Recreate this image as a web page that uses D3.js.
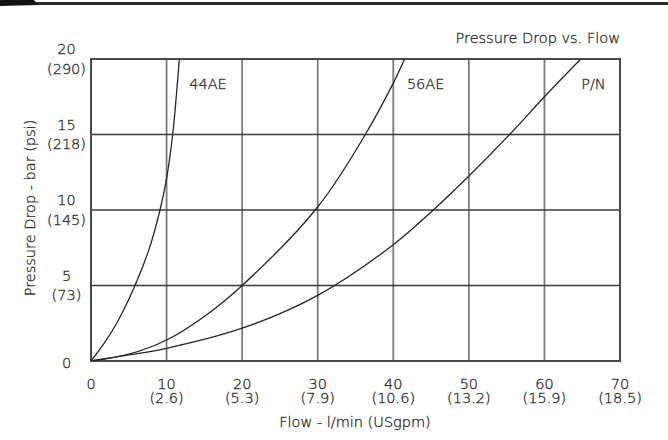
<!DOCTYPE html>
<html><head><meta charset="utf-8">
<script src="https://cdn.jsdelivr.net/npm/d3@7"></script>
<style>
html,body{margin:0;padding:0;background:#fff;}
svg{display:block;}
text{font-family:"DejaVu Sans",sans-serif;font-weight:200;fill:#111;stroke:#333;stroke-width:0.3;}
</style></head>
<body>
<svg id="c" width="668" height="440"></svg>
<script>
// ---- data ----
const xTicks = [0, 10, 20, 30, 40, 50, 60, 70];
const xTickGpm = ["", "(2.6)", "(5.3)", "(7.9)", "(10.6)", "(13.2)", "(15.9)", "(18.5)"];
const yTicks = [0, 5, 10, 15, 20];
const yTickPsi = ["", "(73)", "(145)", "(218)", "(290)"];

const seriesNames = ["44AE", "56AE", "P/N"];
const flow44AE = [0, 1.7, 3.4, 5.82, 7.72, 9.13, 10, 10.81, 11.28, 11.69];
const press44AE = [0, 1.15, 2.5, 5, 7.46, 10, 12.1, 15, 17.5, 20];
const flow56AE = [0, 5, 10, 15, 20, 30, 36.3, 40, 41.5];
const press56AE = [0, 0.45, 1.39, 2.95, 5.0, 10.2, 15, 18.4, 20];
const flowPN = [0, 5, 10, 20, 30, 40, 45.3, 50, 55.4, 60, 64.8];
const pressPN = [0, 0.4, 0.84, 2.17, 4.35, 7.7, 10, 12.25, 15, 17.5, 20];
const labelFlow = [13, 41.8, 68.1]; // label anchor positions (flow units)

const title = "Pressure Drop vs. Flow";
const xTitle = "Flow - l/min (USgpm)";
const yTitle = "Pressure Drop - bar (psi)";

// ---- drawing ----
const svg = d3.select("#c");
const x = d3.scaleLinear().domain([0, 70]).range([91, 620]);
const y = d3.scaleLinear().domain([0, 20]).range([361, 59]);
const fs = 14.5;

// top decorative bar
svg.append("line").attr("x1", 0).attr("x2", 668).attr("y1", 3.5).attr("y2", 3.5)
  .attr("stroke", "#2a2a2a").attr("stroke-width", 3);
svg.append("path").attr("d", "M0,0 L34,0 L38,5 L0,6 Z").attr("fill", "#111");

// vertical grid
svg.append("g").selectAll("line").data(xTicks.filter(d => d > 0 && d < 70)).join("line")
  .attr("x1", d => x(d)).attr("x2", d => x(d)).attr("y1", y(20)).attr("y2", y(0))
  .attr("stroke", "#7a7a7a").attr("stroke-width", 1.8);
// horizontal grid
svg.append("g").selectAll("line").data(yTicks.filter(d => d > 0 && d < 20)).join("line")
  .attr("x1", x(0)).attr("x2", x(70)).attr("y1", d => y(d)).attr("y2", d => y(d))
  .attr("stroke", "#3a3a3a").attr("stroke-width", 1.3);
// frame
svg.append("rect").attr("x", x(0)).attr("y", y(20)).attr("width", x(70) - x(0)).attr("height", y(0) - y(20))
  .attr("fill", "none").attr("stroke", "#4a4a4a").attr("stroke-width", 2);

// curves
const line = d3.line().x(d => x(d[0])).y(d => y(d[1])).curve(d3.curveCatmullRom.alpha(0.5));
const series = [
  d3.zip(flow44AE, press44AE),
  d3.zip(flow56AE, press56AE),
  d3.zip(flowPN, pressPN)
];
svg.append("defs").append("clipPath").attr("id", "clip").append("rect")
  .attr("x", x(0)).attr("y", y(20)).attr("width", x(70) - x(0)).attr("height", y(0) - y(20));
svg.append("g").attr("clip-path", "url(#clip)").selectAll("path").data(series).join("path")
  .attr("d", line).attr("fill", "none").attr("stroke", "#262626").attr("stroke-width", 1.3);

// series labels
svg.append("g").selectAll("text").data(seriesNames).join("text")
  .attr("x", (d, i) => x(labelFlow[i])).attr("y", 88.5)
  .attr("text-anchor", (d, i) => i === 2 ? "end" : "start")
  .attr("font-size", fs).text(d => d);

// y tick labels
const yl = svg.append("g");
yl.selectAll("text.n").data(yTicks).join("text").attr("class", "n")
  .attr("x", 66.5).attr("y", d => d === 0 ? y(d) + 6.5 : y(d) - 5)
  .attr("text-anchor", "middle").attr("font-size", fs).text(d => d);
yl.selectAll("text.p").data(yTicks.filter((d, i) => yTickPsi[i] !== "")).join("text").attr("class", "p")
  .attr("x", 66.5).attr("y", d => y(d) + 14.5)
  .attr("text-anchor", "middle").attr("font-size", fs).text(d => yTickPsi[yTicks.indexOf(d)]);

// x tick labels
const xl = svg.append("g");
xl.selectAll("text.n").data(xTicks).join("text").attr("class", "n")
  .attr("x", d => x(d)).attr("y", 388.5)
  .attr("text-anchor", "middle").attr("font-size", fs).text(d => d);
xl.selectAll("text.p").data(xTicks.filter((d, i) => xTickGpm[i] !== "")).join("text").attr("class", "p")
  .attr("x", d => x(d)).attr("y", 403)
  .attr("text-anchor", "middle").attr("font-size", fs).text(d => xTickGpm[xTicks.indexOf(d)]);

// titles
svg.append("text").attr("x", 620).attr("y", 42.5).attr("text-anchor", "end")
  .attr("font-size", fs).text(title);
svg.append("text").attr("x", 355).attr("y", 427).attr("text-anchor", "middle")
  .attr("font-size", fs).text(xTitle);
svg.append("text").attr("transform", "translate(35,208) rotate(-90)").attr("text-anchor", "middle")
  .attr("font-size", fs).text(yTitle);
</script>
</body></html>
